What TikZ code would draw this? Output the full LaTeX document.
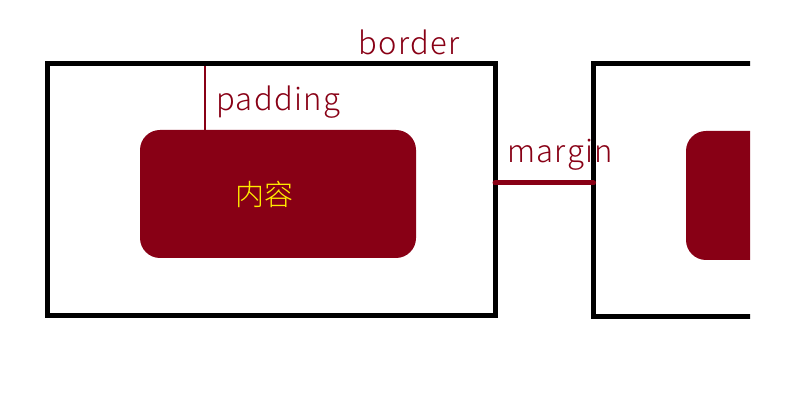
\documentclass[tikz,border=0pt]{standalone}
\usepackage{fontspec}
\setmainfont{Noto Sans CJK SC}
\newfontfamily\lblfont[LetterSpace=4.5]{Noto Sans CJK SC Light}
\newfontfamily\cjklight{Noto Sans CJK SC Light}
\definecolor{dred}{RGB}{136,0,21}
\definecolor{ylw}{RGB}{255,236,0}
\begin{document}
\begin{tikzpicture}[x=1pt,y=-1pt,
  outerbox/.style={draw=black,line width=5pt,inner sep=0pt,outer sep=0pt,minimum width=447.5pt,minimum height=252.5pt},
  content/.style={fill=dred,rounded corners=20pt,inner sep=0pt,outer sep=0pt,minimum width=276pt,minimum height=128pt},
  lbl/.style={text=dred,inner sep=0pt,anchor=base west,font=\lblfont\fontsize{31}{31}\selectfont},
  thinline/.style={draw=dred,line width=1.5pt},
  marginline/.style={draw=dred,line width=5pt,line cap=round}]
\useasboundingbox (0,0) rectangle (790,419);
\node[content] (in1) at (278,194) {};
\coordinate (p) at (205,130);
\draw[thinline] (p |- 0,63.5) -- (p);
\node[outerbox] (box1) at (271.25,189.75) {};
\node[text=ylw,inner sep=0pt,font=\cjklight\fontsize{29}{29}\selectfont] (txt) at (264.5,194) {内容};
\begin{scope}
\clip (0,0) rectangle (750,419);
\node[content,minimum height=129pt] (in2) at (824,195.5) {};
\node[outerbox,minimum height=253pt] (box2) at (817.25,190.5) {};
\end{scope}
\coordinate (m1) at (495,183);
\draw[marginline] (m1) -- (m1 -| box2.west);
\node[lbl] (lb) at (358,55) {border};
\node[lbl] (lp) at (216,111) {padding};
\node[lbl] (lm) at (507,163) {margin};
\end{tikzpicture}
\end{document}
